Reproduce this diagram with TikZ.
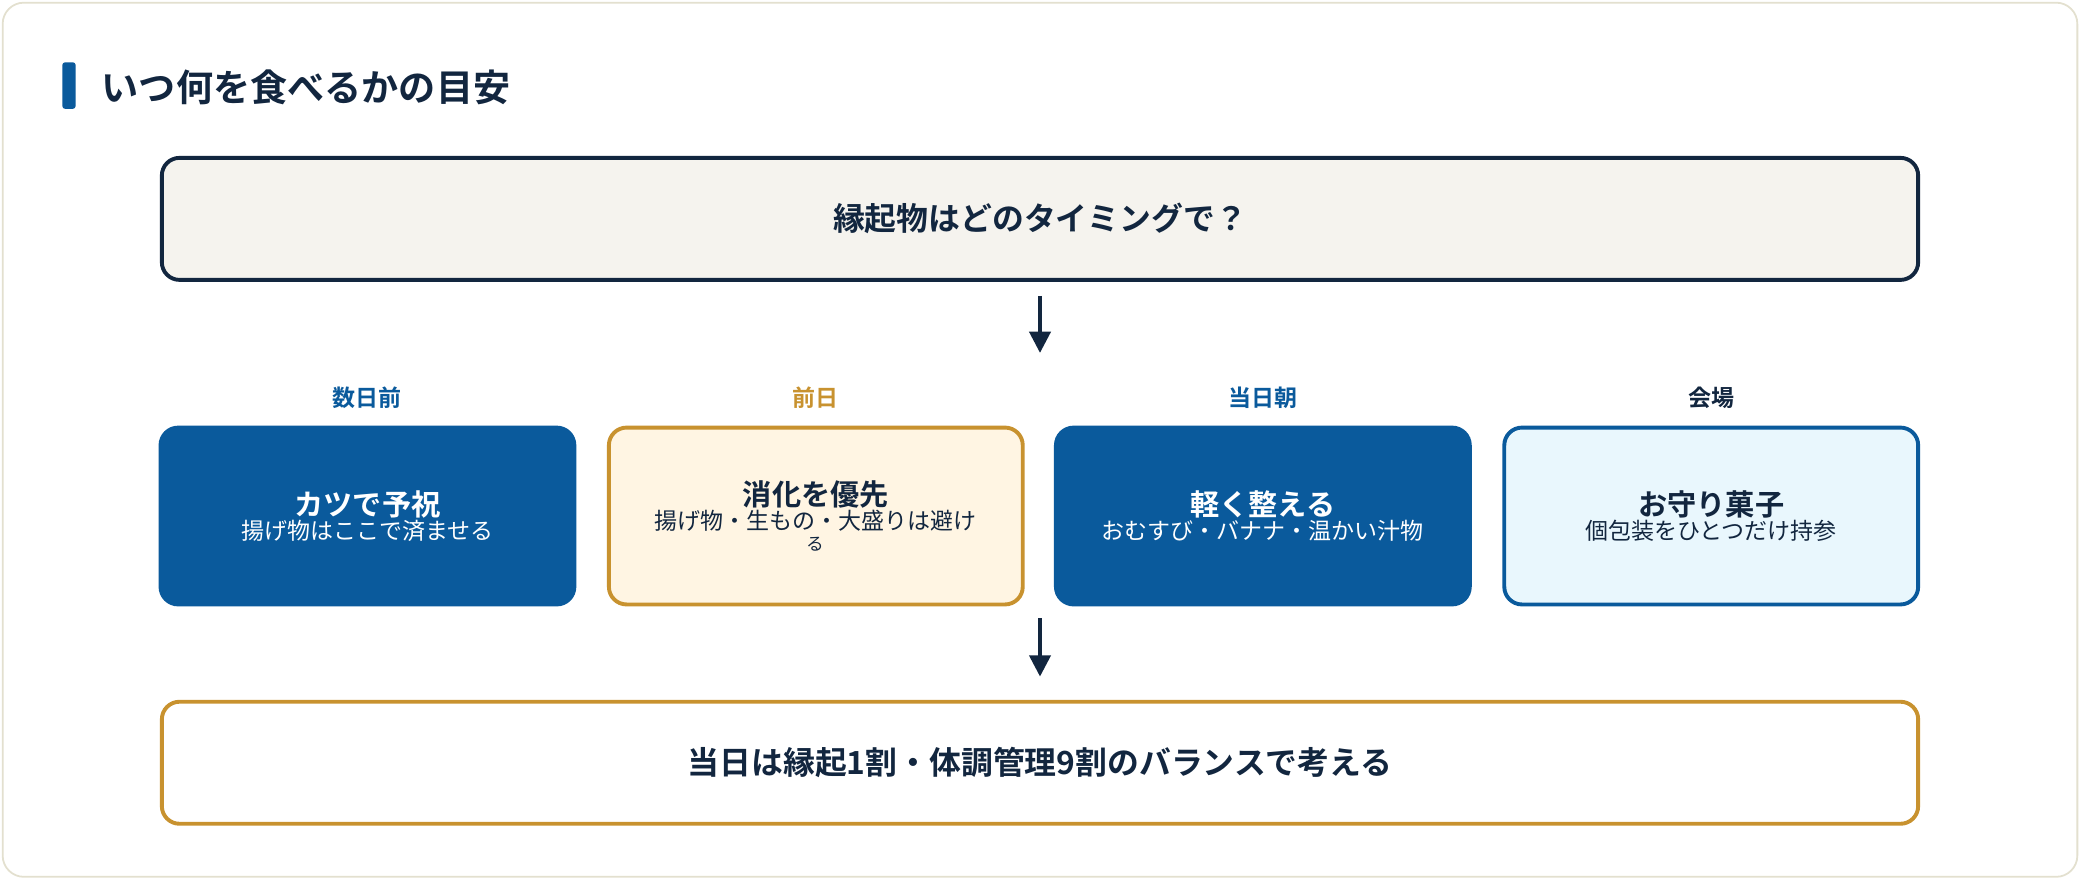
\documentclass[tikz,border=0pt]{standalone}
\usepackage{fontspec}
\setmainfont{Noto Sans CJK JP}[BoldFont={Noto Sans CJK JP Bold}]
\usetikzlibrary{arrows.meta, positioning}
\definecolor{navy}{HTML}{12263F}
\definecolor{mainblue}{HTML}{0A5A9C}
\definecolor{gold}{HTML}{C8922F}
\definecolor{cream}{HTML}{FFF5E3}
\definecolor{paleblue}{HTML}{E9F7FD}
\definecolor{panel}{HTML}{F5F3EE}
\definecolor{frame}{HTML}{E3E0CF}
\newcommand{\headtxt}{\bfseries\fontsize{16.5}{20}\selectfont}
\newcommand{\subtxt}{\mdseries\fontsize{13}{21}\selectfont}

\begin{document}
\begin{tikzpicture}[x=0.75pt, y=-0.75pt,
    box/.style={rounded corners=10pt, line width=2.2pt, minimum width=234pt, minimum height=100pt, align=center},
    wide/.style={rounded corners=10pt, line width=2.2pt, minimum width=993pt, minimum height=69pt},
    tag/.style={font=\bfseries\fontsize{13}{15}\selectfont},
    arr/.style={-{Triangle[length=12pt, width=12pt]}, line width=2pt, navy}]
        \useasboundingbox (0,0) rectangle (1568,663);
        \draw[frame, fill=white, line width=1pt, rounded corners=12pt] (2,2) rectangle (1566,661);

        % heading
        \fill[mainblue, rounded corners=1.5pt] (47,47) rectangle (57,82);
        \node[anchor=west, text=navy, font=\bfseries\fontsize{21}{24}\selectfont] (head) at (72,66) {いつ何を食べるかの目安};

        % question and answer
        \node[wide, draw=navy, fill=panel, text=navy, font=\bfseries\fontsize{18}{22}\selectfont] (ask) at (784,165) {縁起物はどのタイミングで？};
        \node[wide, draw=gold, fill=white, text=navy, font=\bfseries\fontsize{18}{22}\selectfont] (rule) at (784,575) {当日は縁起1割・体調管理9割のバランスで考える};

        % four timings
        \node[box, draw=mainblue, fill=mainblue, text=white] (early) at (277,389)
            {\headtxt カツで予祝\\ \subtxt 揚げ物はここで済ませる};
        \node[box, draw=gold, fill=cream, text=navy] (eve) at (615,389)
            {\headtxt 消化を優先\\ \subtxt 揚げ物・生もの・大盛りは避け\\ る};
        \node[box, draw=mainblue, fill=mainblue, text=white] (morn) at (952,389)
            {\headtxt 軽く整える\\ \subtxt おむすび・バナナ・温かい汁物};
        \node[box, draw=mainblue, fill=paleblue, text=navy] (hall) at (1290,389)
            {\headtxt お守り菓子\\ \subtxt 個包装をひとつだけ持参};

        \node[tag, text=mainblue] (earlytag) at (277,300) {数日前};
        \node[tag, text=gold] (evetag) at (615,300) {前日};
        \node[tag, text=mainblue] (morntag) at (952,300) {当日朝};
        \node[tag, text=navy] (halltag) at (1290,300) {会場};

        \coordinate (split) at (784,266);
        \coordinate (join) at (784,466);
        \coordinate (last) at (784,510);
        \draw[arr] (ask.south) ++(0,-8pt) -- (split);
        \draw[arr] (join) -- (last);
\end{tikzpicture}
\end{document}
